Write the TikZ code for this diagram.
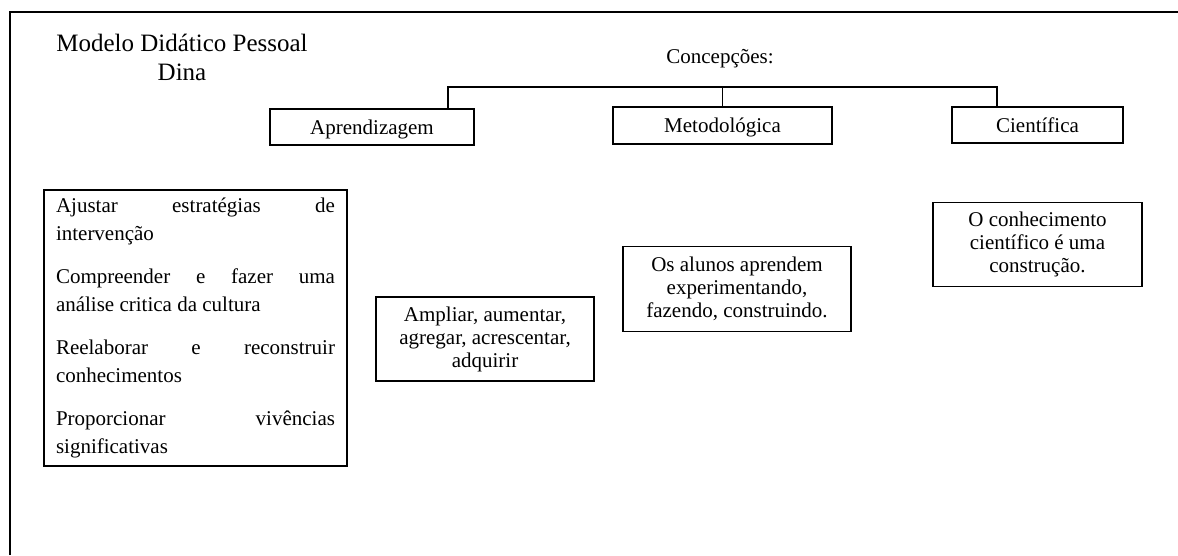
\documentclass[tikz,border=0pt]{standalone}
\usepackage{fontspec}
\setmainfont{Liberation Serif}
\usetikzlibrary{positioning, calc}
\tikzset{
	concept/.style={
		draw,
		line width=1.3pt,
		inner sep=0pt,
		minimum height=36pt,
		text height=14pt,
		text depth=0pt,
		font=\fontsize{21}{23}\selectfont
	},
	idea/.style={
		draw,
		line width=1.3pt,
		inner sep=0pt,
		align=center,
		font=\fontsize{21}{23}\selectfont
	},
	link/.style={line width=1.3pt},
	frame/.style={line width=1.6pt}
}

\begin{document}
\begin{tikzpicture}[x=1pt, y=-1pt]
	\useasboundingbox (0,0) rectangle (1178,555);

	% page frame (open to the right and bottom)
	\coordinate (frameNW) at (10,12);
	\draw[frame] (10,555) -- (frameNW) -- (1178,12);

	% heading
	\node[align=center, font=\fontsize{25}{29}\selectfont] (title) at (182,57) {Modelo Didático Pessoal\\Dina};
	\node[font=\fontsize{21}{23}\selectfont] (concdsc) at (720,59) {Concepções:};

	% the three conceptions
	\node[concept, minimum width=204pt] (apr) at (372,127) {Aprendizagem};
	\node[concept, minimum width=219pt, minimum height=37pt] (met) at (722.5,125.5) {Metodológica};
	\node[concept, minimum width=171pt] (sci) at (1037.5,125) {Científica};

	% bracket
	\coordinate (barL) at (448,87);
	\coordinate (barR) at (997,87);
	\draw[link] (apr.north -| barL) -- (barL) -- (barR) -- (sci.north -| barR);
	\draw[link] (met.north) -- (met.north |- barL);

	% contents
	\node[draw, line width=1.3pt, minimum width=303pt, minimum height=276pt, inner xsep=12pt,
		text width=279pt, align=justify,
		font=\fontsize{21}{28}\selectfont\setlength{\parindent}{0pt}] (tasks) at (195.5,328) {%
		Ajustar estratégias de\linebreak intervenção\par\vspace{15pt}
		Compreender e fazer uma\linebreak análise critica da cultura\par\vspace{15pt}
		Reelaborar e reconstruir\linebreak conhecimentos\par\vspace{15pt}
		Proporcionar vivências\linebreak significativas};

	\node[idea, minimum width=218pt, minimum height=84pt] (ampl) at (485,339) {Ampliar, aumentar,\\agregar, acrescentar,\\adquirir};
	\node[idea, minimum width=228pt, minimum height=85pt] (alunos) at (737,289) {Os alunos aprendem\\experimentando,\\fazendo, construindo.};
	\node[idea, minimum width=209pt, minimum height=84pt, below=58pt of sci] (knowl) {O conhecimento\\científico é uma\\construção.};
\end{tikzpicture}
\end{document}
